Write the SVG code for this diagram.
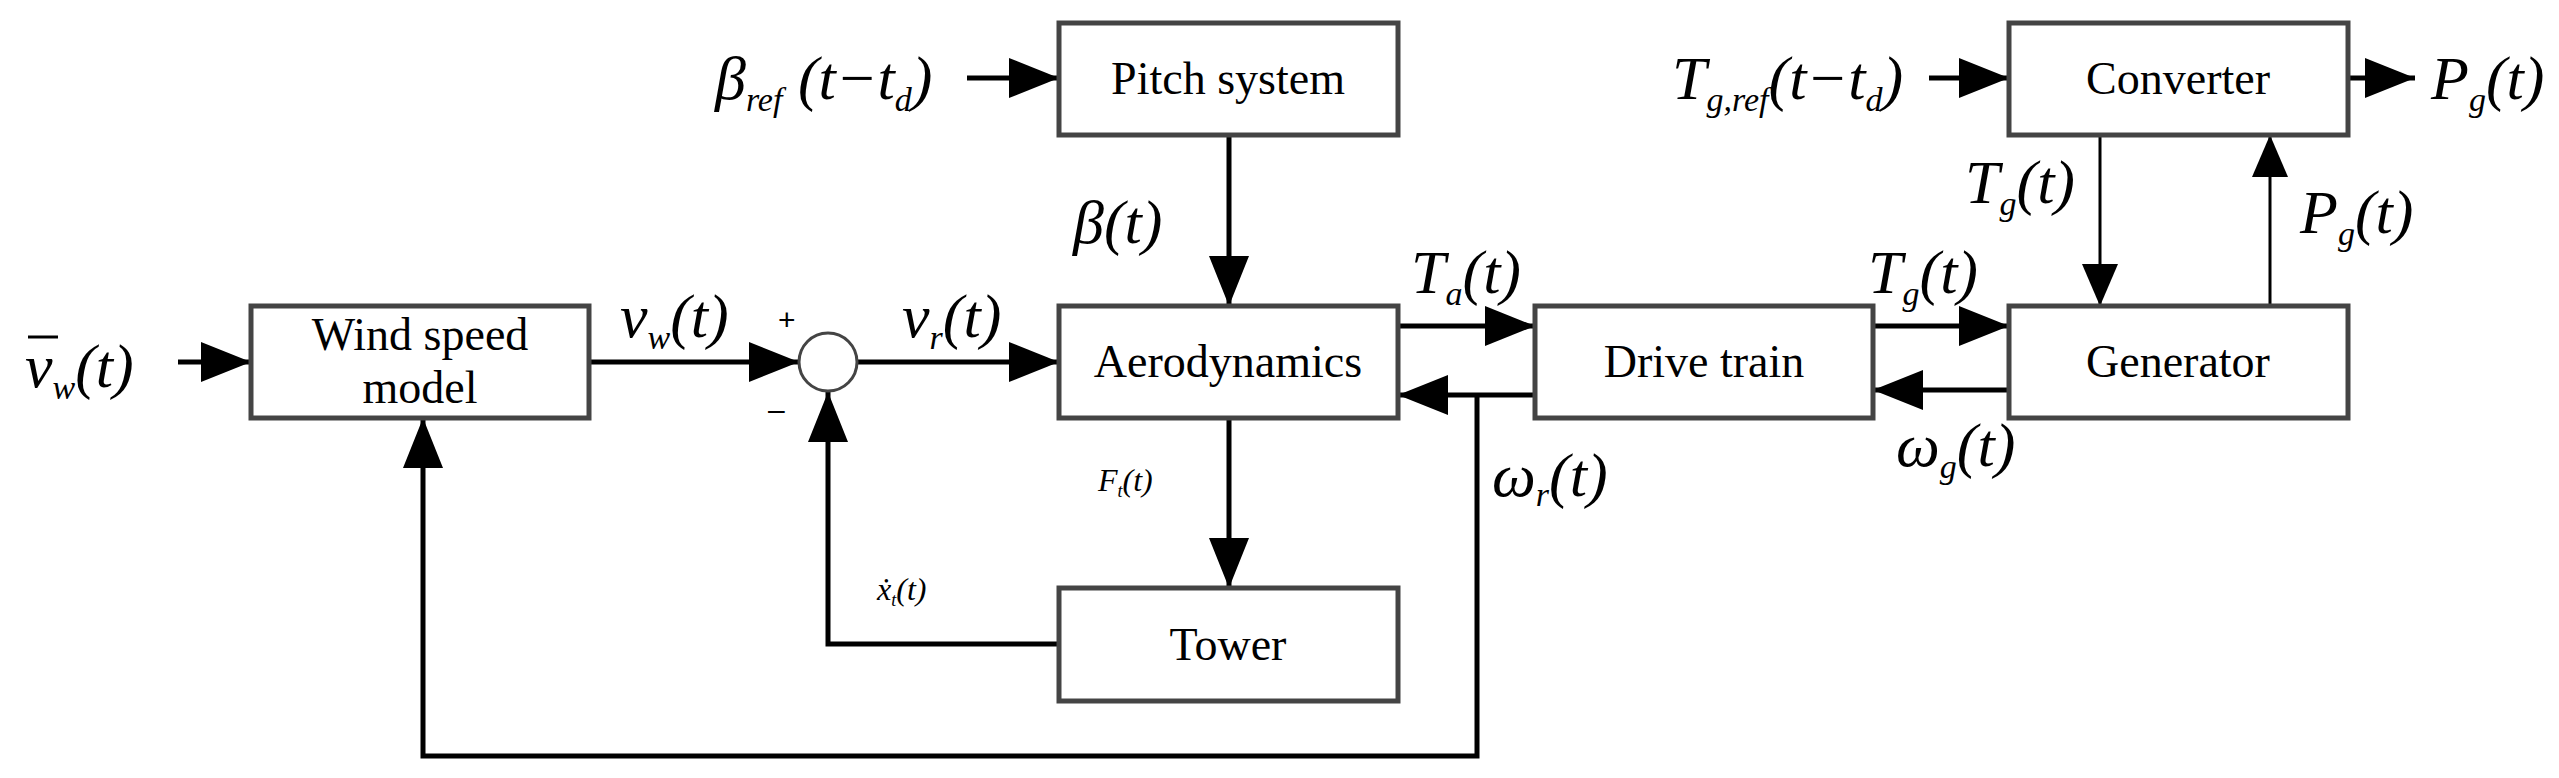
<svg xmlns="http://www.w3.org/2000/svg" width="2559" height="778" viewBox="0 0 2559 778">
<style>
.box{fill:#fff;stroke:#444;stroke-width:5}
.bt{font-family:"Liberation Serif",serif;font-size:46px;text-anchor:middle}
.ln{fill:none;stroke:#000;stroke-width:5}
.thin{fill:none;stroke:#000;stroke-width:3}
.m{font-family:"Liberation Serif",serif;font-style:italic;font-size:62px}
.s{font-size:34px}
.sm{font-family:"Liberation Serif",serif;font-style:italic;font-size:32px}
.pm{font-family:"Liberation Sans",sans-serif;font-size:30px}
</style>
<defs>
<marker id="a" markerWidth="10" markerHeight="8" refX="10" refY="4" orient="auto" markerUnits="strokeWidth"><path d="M0,0L10,4L0,8Z" fill="#000"/></marker>
<marker id="b" markerWidth="14" markerHeight="12" refX="14" refY="6" orient="auto" markerUnits="strokeWidth"><path d="M0,0L14,6L0,12Z" fill="#000"/></marker>
</defs>
<g id="connectors">
<line class="ln" x1="178" y1="362" x2="251" y2="362" marker-end="url(#a)"/>
<line class="ln" x1="589" y1="362" x2="799" y2="362" marker-end="url(#a)"/>
<line class="ln" x1="857" y1="362" x2="1059" y2="362" marker-end="url(#a)"/>
<line class="ln" x1="1229" y1="135" x2="1229" y2="306" marker-end="url(#a)"/>
<line class="ln" x1="1229" y1="418" x2="1229" y2="588" marker-end="url(#a)"/>
<polyline class="ln" points="1059,644 828,644 828,392" marker-end="url(#a)"/>
<polyline class="ln" points="1477,395 1477,756 423,756 423,418" marker-end="url(#a)"/>
<line class="ln" x1="1398" y1="326" x2="1535" y2="326" marker-end="url(#a)"/>
<line class="ln" x1="1535" y1="395" x2="1398" y2="395" marker-end="url(#a)"/>
<line class="ln" x1="1873" y1="326" x2="2009" y2="326" marker-end="url(#a)"/>
<line class="ln" x1="2009" y1="390" x2="1873" y2="390" marker-end="url(#a)"/>
<line class="thin" x1="2100" y1="135" x2="2100" y2="306" marker-end="url(#b)"/>
<line class="thin" x1="2270" y1="306" x2="2270" y2="135" marker-end="url(#b)"/>
<line class="ln" x1="967" y1="78" x2="1059" y2="78" marker-end="url(#a)"/>
<line class="ln" x1="1929" y1="78" x2="2009" y2="78" marker-end="url(#a)"/>
<line class="ln" x1="2348" y1="78" x2="2415" y2="78" marker-end="url(#a)"/>
</g>
<g id="wind"><rect class="box" x="251" y="306" width="338" height="112"/><text class="bt" x="420" y="350">Wind speed</text><text class="bt" x="420" y="403">model</text></g>
<g id="sum"><circle cx="828" cy="362" r="29" fill="#fff" stroke="#444" stroke-width="3"/></g>
<g id="pitch"><rect class="box" x="1059" y="23" width="339" height="112"/><text class="bt" x="1228" y="94">Pitch system</text></g>
<g id="aero"><rect class="box" x="1059" y="306" width="339" height="112"/><text class="bt" x="1228" y="377">Aerodynamics</text></g>
<g id="tower"><rect class="box" x="1059" y="588" width="339" height="113"/><text class="bt" x="1228" y="660">Tower</text></g>
<g id="drive"><rect class="box" x="1535" y="306" width="338" height="112"/><text class="bt" x="1704" y="377">Drive train</text></g>
<g id="gen"><rect class="box" x="2009" y="306" width="339" height="112"/><text class="bt" x="2178" y="377">Generator</text></g>
<g id="conv"><rect class="box" x="2009" y="23" width="339" height="112"/><text class="bt" x="2178" y="94">Converter</text></g>
<g id="labels">
<text class="m" x="25" y="387">v<tspan class="s" dy="12">w</tspan><tspan dy="-12">(t)</tspan></text>
<line x1="28" y1="337" x2="58" y2="337" stroke="#000" stroke-width="3"/>
<text class="m" x="715" y="99">β<tspan class="s" dy="12">ref</tspan><tspan dy="-12"> (t−t</tspan><tspan class="s" dy="12">d</tspan><tspan dy="-12">)</tspan></text>
<text class="m" x="1073" y="243">β(t)</text>
<text class="m" x="620" y="337">v<tspan class="s" dy="12">w</tspan><tspan dy="-12">(t)</tspan></text>
<text class="pm" x="778" y="330">+</text>
<text class="pm" x="768" y="420">–</text>
<text class="m" x="902" y="337">v<tspan class="s" dy="12">r</tspan><tspan dy="-12">(t)</tspan></text>
<text class="sm" x="1098" y="491">F<tspan font-size="18" dy="6">t</tspan><tspan dy="-6">(t)</tspan></text>
<text class="sm" x="877" y="600">ẋ<tspan font-size="18" dy="6">t</tspan><tspan dy="-6">(t)</tspan></text>
<text class="m" x="1411" y="293">T<tspan class="s" dy="12">a</tspan><tspan dy="-12">(t)</tspan></text>
<text class="m" x="1868" y="293">T<tspan class="s" dy="12">g</tspan><tspan dy="-12">(t)</tspan></text>
<text class="m" x="1492" y="496" font-size="50">ω<tspan class="s" dy="10">r</tspan><tspan dy="-10">(t)</tspan></text>
<text class="m" x="1896" y="466">ω<tspan class="s" dy="12">g</tspan><tspan dy="-12">(t)</tspan></text>
<text class="m" x="1965" y="203">T<tspan class="s" dy="12">g</tspan><tspan dy="-12">(t)</tspan></text>
<text class="m" x="2300" y="233" font-size="52">P<tspan class="s" dy="12">g</tspan><tspan dy="-12">(t)</tspan></text>
<text class="m" x="1672" y="99">T<tspan class="s" dy="12">g,ref</tspan><tspan dy="-12">(t−t</tspan><tspan class="s" dy="12">d</tspan><tspan dy="-12">)</tspan></text>
<text class="m" x="2431" y="99">P<tspan class="s" dy="12">g</tspan><tspan dy="-12">(t)</tspan></text>
</g>
</svg>
